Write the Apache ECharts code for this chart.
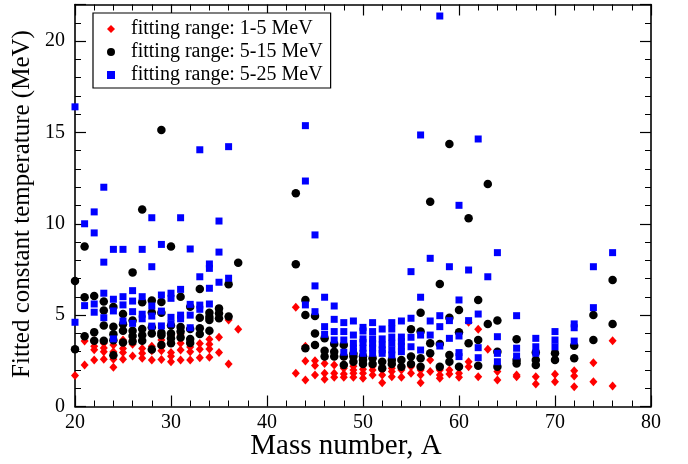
<!DOCTYPE html>
<html>
<head>
<meta charset="utf-8">
<script src="https://cdn.jsdelivr.net/npm/echarts@6/dist/echarts.min.js"></script>
<style>
html,body{margin:0;padding:0;background:#fff;}
#chart{width:688px;height:464px;}
</style>
</head>
<body>
<div id="chart"></div>
<script>
// Series names
const seriesNames = ['fitting range: 1-5 MeV', 'fitting range: 5-15 MeV', 'fitting range: 5-25 MeV'];
// Axis tick values
const xTicks = [20, 30, 40, 50, 60, 70, 80];
const yTicks = [0, 5, 10, 15, 20];
const axisTitles = { x: 'Mass number, A', y: 'Fitted constant temperature (MeV)' };

// [mass number A, fitted temperature (MeV)]
const range1to5 = [
  [20,1.69],
  [21,3.58],[21,2.27],
  [22,3.6],[22,3.3],[22,3.1],[22,2.55],
  [23,3.46],[23,3.2],[23,3.0],[23,2.58],
  [24,3.37],[24,3.0],[24,2.58],[24,2.15],
  [25,3.64],[25,3.18],[25,2.95],[25,2.58],
  [26,3.64],[26,3.4],[26,2.76],
  [27,3.18],[27,2.91],[27,2.64],
  [28,3.3],[28,3.05],[28,2.55],
  [29,3.64],[29,3.27],[29,3.05],[29,2.57],
  [30,3.9],[30,2.95],[30,2.75],[30,2.45],
  [31,3.97],[31,3.46],[31,3.09],[31,2.55],
  [32,3.25],[32,3.0],[32,2.55],
  [33,3.45],[33,3.13],[33,2.67],
  [34,3.68],[34,3.4],[34,3.15],[34,2.69],
  [35,3.79],[35,2.95],
  [36,4.73],[36,2.33],
  [37,4.23],
  [43,5.43],[43,1.82],
  [44,3.3],[44,2.49],[44,1.45],
  [45,2.51],[45,2.25],[45,1.72],
  [46,2.36],[46,1.82],[46,1.49],
  [47,2.27],[47,1.82],[47,1.6],
  [48,2.3],[48,2.09],[48,1.78],[48,1.6],
  [49,2.2],[49,2.0],[49,1.82],[49,1.6],
  [50,2.04],[50,1.82],[50,1.54],
  [51,2.2],[51,2.0],[51,1.72],
  [52,2.0],[52,1.72],[52,1.3],
  [53,2.1],[53,1.91],[53,1.63],
  [54,2.2],[54,2.0],[54,1.6],
  [55,2.18],[55,1.82],
  [56,2.0],[56,1.72],[56,1.3],
  [57,2.55],[57,1.91],
  [58,2.0],[58,1.72],[58,1.54],
  [59,2.0],[59,1.78],
  [60,1.82],[60,1.6],
  [61,4.61],[61,2.45],[61,2.18],
  [62,4.23],[62,1.63],
  [63,3.13],
  [64,1.91],[64,1.45],
  [66,1.72],[66,1.63],
  [68,1.63],[68,1.23],
  [70,1.76],[70,1.36],
  [72,1.96],[72,1.67],[72,1.08],
  [74,2.4],[74,1.36],
  [76,3.6],[76,1.12]
];

const range5to15 = [
  [20,6.87],[20,3.13],
  [21,8.76],[21,5.98],[21,3.85],
  [22,6.05],[22,4.07],[22,3.6],
  [23,5.74],[23,5.25],[23,4.43],[23,3.6],
  [24,5.45],[24,4.36],[24,3.96],[24,3.63],[24,2.8],
  [25,5.06],[25,4.5],[25,4.14],[25,3.5],
  [26,7.34],[26,4.7],[26,4.15],[26,3.86],[26,3.56],
  [27,10.78],[27,5.7],[27,4.24],[27,3.9],[27,3.6],
  [28,5.8],[28,5.15],[28,4.34],[28,4.0],[28,3.12],
  [29,15.13],[29,5.72],[29,5.13],[29,4.03],[29,3.9],[29,3.37],
  [30,8.76],[30,4.43],[30,4.0],[30,3.73],[30,3.46],
  [31,6.0],[31,4.35],[31,4.1],[31,3.78],
  [32,5.46],[32,4.24],[32,3.7],[32,3.47],
  [33,6.43],[33,4.86],[33,4.28],[33,3.97],
  [34,5.13],[34,4.9],[34,4.73],[34,4.15],
  [35,5.37],[35,5.1],[35,4.83],
  [36,6.69],[36,4.92],
  [37,7.87],
  [43,11.67],[43,7.78],
  [44,5.83],[44,5.01],[44,3.19],
  [45,4.95],[45,4.0],[45,3.37],
  [46,3.73],[46,3.05],[46,2.73],
  [47,3.42],[47,3.0],[47,2.73],
  [48,3.37],[48,2.73],[48,2.27],
  [49,2.9],[49,2.73],[49,2.45],
  [50,2.75],[50,2.55],[50,2.33],
  [51,2.64],[51,2.33],
  [52,2.45],[52,2.09],
  [53,2.55],[53,2.33],
  [54,2.55],[54,2.18],
  [55,4.23],[55,2.73],[55,2.33],
  [56,5.13],[56,4.1],[56,2.64],[56,2.18],
  [57,11.21],[57,3.46],[57,2.91],
  [58,6.7],[58,3.42],[58,2.18],
  [59,14.37],[59,4.86],[59,2.82],[59,2.45],
  [60,5.28],[60,4.06],[60,2.18],
  [61,10.3],[61,3.46],
  [62,5.83],[62,3.64],[62,2.23],
  [63,12.18],[63,4.52],
  [64,4.7],[64,3.0],[64,2.18],
  [66,3.68],[66,2.55],[66,2.36],
  [68,2.95],[68,2.55],[68,2.27],
  [70,2.91],[70,2.55],
  [72,3.33],[72,2.64],
  [74,5.01],[74,3.64],
  [76,6.92],[76,4.52]
];

const range5to25 = [
  [20,16.4],[20,4.61],
  [21,10.0],[21,5.52],
  [22,10.65],[22,9.5],[22,5.61],[22,5.16],
  [23,12.0],[23,7.9],[23,6.2],[23,4.86],
  [24,8.6],[24,5.87],[24,5.23],[24,3.7],
  [25,8.6],[25,6.01],[25,5.56],[25,4.68],
  [26,6.34],[26,5.77],[26,5.19],[26,4.55],
  [27,8.6],[27,6.01],[27,5.05],[27,4.8],
  [28,10.33],[28,7.65],[28,5.5],[28,4.95],[28,4.4],
  [29,8.87],[29,6.1],[29,5.22],[29,4.41],
  [30,6.2],[30,5.92],[30,4.88],[30,4.52],
  [31,10.33],[31,6.41],[31,5.0],[31,4.8],
  [32,8.62],[32,5.59],[32,5.0],[32,4.31],
  [33,14.05],[33,7.1],[33,5.55],[33,5.32],
  [34,7.8],[34,7.56],[34,6.47],[34,5.61],
  [35,10.15],[35,8.45],[35,6.8],
  [36,14.22],[36,7.02],
  [44,15.37],[44,12.34],[44,5.56],
  [45,9.39],[45,6.6],[45,5.19],
  [46,5.98],[46,4.37],[46,3.95],
  [47,5.5],[47,4.77],[47,4.1],[47,3.64],
  [48,4.59],[48,4.1],[48,3.64],[48,2.97],
  [49,4.68],[49,3.91],[49,3.46],[49,3.2],[49,3.0],
  [50,4.33],[50,4.13],[50,3.7],[50,3.51],[50,3.19],[50,2.91],
  [51,4.59],[51,4.1],[51,3.7],[51,3.46],[51,3.2],[51,2.91],
  [52,4.24],[52,3.7],[52,3.37],[52,3.1],[52,2.91],
  [53,4.59],[53,4.24],[53,3.8],[53,3.46],[53,3.1],[53,2.82],
  [54,4.68],[54,3.8],[54,3.55],[54,3.3],[54,3.0],
  [55,7.38],[55,4.83],[55,3.79],[55,3.27],
  [56,14.86],[56,5.98],[56,3.91],[56,3.09],
  [57,8.11],[57,4.68],[57,3.91],
  [58,21.37],[58,4.97],[58,4.37],[58,3.31],
  [59,7.65],[59,4.7],[59,3.73],
  [60,11.01],[60,5.83],[60,3.86],[60,2.95],[60,2.73],
  [61,7.47],[61,4.7],
  [62,14.64],[62,5.06],[62,3.22],[62,2.67],
  [63,7.1],
  [64,8.42],[64,3.82],[64,2.91],[64,2.45],
  [66,4.97],[66,3.19],[66,2.76],
  [68,3.73],[68,3.27],[68,2.91],
  [70,4.1],[70,3.64],[70,3.27],
  [72,4.52],[72,4.31],[72,3.58],
  [74,7.65],[74,5.41],
  [76,8.42]
];

const serif = '"Liberation Serif", "DejaVu Serif", serif';
const chart = echarts.init(document.getElementById('chart'), null, { renderer: 'canvas' });

const frameLine = { show: true, onZero: false, lineStyle: { color: '#000', width: 1.6 } };
const xBase = {
  type: 'value', min: xTicks[0], max: xTicks[xTicks.length - 1], interval: 10,
  axisLine: frameLine,
  axisTick: { show: true, inside: true, length: 11, lineStyle: { color: '#000', width: 1.2 } },
  minorTick: { show: true, splitNumber: 5, length: 6, lineStyle: { color: '#000', width: 1 } },
  splitLine: { show: false }
};
const yBase = {
  type: 'value', min: yTicks[0], max: 22, interval: 5,
  axisLine: frameLine,
  axisTick: { show: true, inside: true, length: 11, lineStyle: { color: '#000', width: 1.2 } },
  minorTick: { show: true, splitNumber: 5, length: 6, lineStyle: { color: '#000', width: 1 } },
  splitLine: { show: false }
};

chart.setOption({
  animation: false,
  backgroundColor: '#fff',
  grid: { left: 75, right: 37, top: 4.5, bottom: 57.5, containLabel: false },
  xAxis: [
    Object.assign({}, xBase, {
      position: 'bottom',
      axisLabel: { show: true, margin: 6, color: '#000', fontFamily: serif, fontSize: 20,
        formatter: v => (xTicks.indexOf(v) >= 0 ? String(v) : '') }
    }),
    Object.assign({}, xBase, { position: 'top', axisLabel: { show: false } })
  ],
  yAxis: [
    Object.assign({}, yBase, {
      position: 'left',
      axisLabel: { show: true, margin: 10, color: '#000', fontFamily: serif, fontSize: 20,
        formatter: v => (yTicks.indexOf(v) >= 0 ? String(v) : '') }
    }),
    Object.assign({}, yBase, { position: 'right', axisLabel: { show: false } })
  ],
  legend: {
    show: true, orient: 'vertical', left: 93, top: 13,
    padding: [5, 8, 2, 14],
    itemWidth: 8, itemHeight: 8, itemGap: 1,
    borderColor: '#000', borderWidth: 1.2, backgroundColor: '#fff',
    textStyle: { fontFamily: serif, fontSize: 20, color: '#000', lineHeight: 22, padding: [0, 0, 0, 11] },
    data: [
      { name: seriesNames[0], icon: 'diamond' },
      { name: seriesNames[1], icon: 'circle' },
      { name: seriesNames[2], icon: 'rect' }
    ]
  },
  graphic: [
    { type: 'text', x: 346, y: 446,
      style: { text: axisTitles.x, font: '29px ' + serif, fill: '#000', align: 'center', verticalAlign: 'middle' } },
    { type: 'text', x: 22, y: 204, rotation: Math.PI / 2,
      style: { text: axisTitles.y, font: '25px ' + serif, fill: '#000', align: 'center', verticalAlign: 'middle' } }
  ],
  series: [
    { name: seriesNames[0], type: 'scatter', symbol: 'diamond', symbolSize: [8, 9],
      itemStyle: { color: '#ff0000', opacity: 1 }, data: range1to5 },
    { name: seriesNames[1], type: 'scatter', symbol: 'circle', symbolSize: 8.5,
      itemStyle: { color: '#000000', opacity: 1 }, data: range5to15 },
    { name: seriesNames[2], type: 'scatter', symbol: 'rect', symbolSize: 7,
      itemStyle: { color: '#0000ff', opacity: 1 }, data: range5to25 }
  ]
});
</script>
</body>
</html>
